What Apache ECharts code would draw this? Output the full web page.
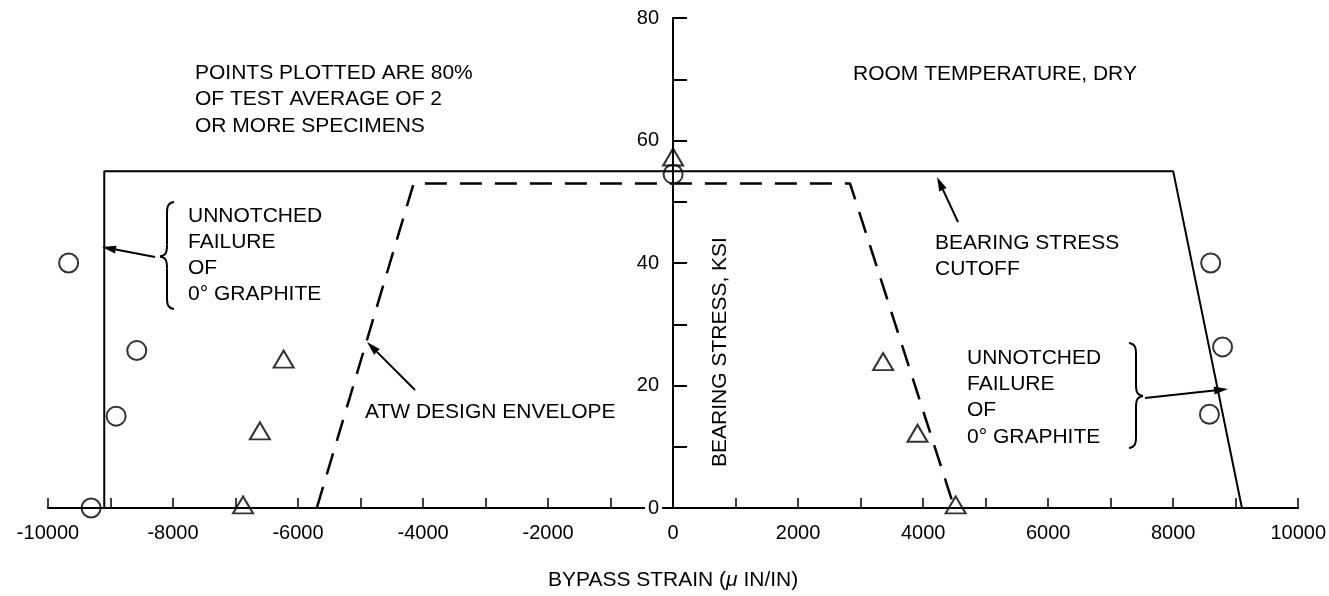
<!DOCTYPE html>
<html><head><meta charset="utf-8">
<script src="https://cdn.jsdelivr.net/npm/echarts@6/dist/echarts.min.js"></script>
<style>html,body{margin:0;padding:0;background:#fff}#c{width:1329px;height:596px}</style>
</head><body><div id="c"></div>
<script>
// ---- data ----
const xLabelValues = [-10000, -8000, -6000, -4000, -2000, 0, 2000, 4000, 6000, 8000, 10000];
const yLabelValues = [0, 20, 40, 60, 80];
// bearing stress cutoff (solid)
const cutoffX = [-9100, -9100, 8000, 9100];
const cutoffY = [0, 55, 55, 0];
// ATW design envelope (dashed)
const envelopeX = [-5700, -4150, 2830, 4500];
const envelopeY = [0, 53, 53, 0];
// circles
const circleX = [-9670, -8580, -8910, -9310, 0, 8600, 8790, 8580];
const circleY = [40, 25.7, 15, 0, 54.5, 40, 26.3, 15.3];
// triangles
const triangleX = [-6230, -6610, -6880, 0, 3360, 3910, 4520];
const triangleY = [24.3, 12.6, 0.5, 57.3, 23.9, 12.2, 0.5];

const FONT = '"Liberation Sans", Arial, Helvetica, sans-serif';
const FS = 20;   // tick labels
const FA = 21;   // annotations / axis names
function pairs(xs, ys) { return xs.map((x, i) => [x, ys[i]]); }

const chart = echarts.init(document.getElementById('c'), null, { renderer: 'canvas' });

const STROKE = { stroke: '#000', lineWidth: 2, fill: null };
function arrow(x1, y1, x2, y2) {
  const L = 14, W = 4;
  const dx = x2 - x1, dy = y2 - y1, len = Math.hypot(dx, dy);
  const ux = dx / len, uy = dy / len;
  const bx = x2 - ux * L, by = y2 - uy * L;
  return [
    { type: 'line', shape: { x1: x1, y1: y1, x2: bx, y2: by }, style: { stroke: '#000', lineWidth: 2 } },
    { type: 'polygon', shape: { points: [[x2, y2], [bx - uy * W, by + ux * W], [bx + uy * W, by - ux * W]] }, style: { fill: '#000' } }
  ];
}
// curly brace: xe = end x, xm = spine x, xt = tip x
function brace(xe, xm, xt, yTop, yTip, yBot) {
  const s = Math.sign(xt - xm);
  const r = 12;
  const bz = (x1, y1, cx1, cy1, cx2, cy2, x2, y2) => ({ type: 'bezierCurve',
    shape: { x1: x1, y1: y1, cpx1: cx1, cpy1: cy1, cpx2: cx2, cpy2: cy2, x2: x2, y2: y2 }, style: STROKE });
  const ln = (x1, y1, x2, y2) => ({ type: 'line', shape: { x1: x1, y1: y1, x2: x2, y2: y2 }, style: STROKE });
  return [
    bz(xe, yTop, xm, yTop + 1, xm, yTop + 6, xm, yTop + r),
    ln(xm, yTop + r, xm, yTip - r),
    bz(xm, yTip - r, xm, yTip - 4, xm + s * 1, yTip - 1, xt, yTip),
    bz(xt, yTip, xm + s * 1, yTip + 1, xm, yTip + 4, xm, yTip + r),
    ln(xm, yTip + r, xm, yBot - r),
    bz(xm, yBot - r, xm, yBot - 6, xm, yBot - 1, xe, yBot)
  ];
}
function textBlock(lines, x, yFirstCenter, lh) {
  return { type: 'text', x: x, y: yFirstCenter - lh / 2,
    style: { text: lines.join('\n'), font: FA + 'px ' + FONT, fill: '#000', lineHeight: lh, align: 'left', verticalAlign: 'top' } };
}

const option = {
  animation: false,
  backgroundColor: '#fff',
  textStyle: { fontFamily: FONT },
  grid: { left: 48, right: 28, top: 18, bottom: 83 },
  xAxis: {
    type: 'value', min: -10000, max: 10000, interval: 1000,
    axisLine: { onZero: true, lineStyle: { color: '#000', width: 2 } },
    axisTick: { inside: true, length: 10, lineStyle: { color: '#000', width: 1.5 } },
    axisLabel: { formatter: v => xLabelValues.includes(v) ? String(v) : '', color: '#000', fontSize: FS, fontFamily: FONT, margin: 15, showMinLabel: true, showMaxLabel: true },
    splitLine: { show: false },
    name: '{n|BYPASS STRAIN (}{i|μ}{n| IN/IN)}', nameLocation: 'middle', nameGap: 62,
    nameTextStyle: { rich: { n: { fontSize: FA, color: '#000', fontFamily: FONT }, i: { fontSize: FA, color: '#000', fontFamily: FONT, fontStyle: 'italic' } } }
  },
  yAxis: {
    type: 'value', min: 0, max: 80, interval: 10,
    axisLine: { onZero: true, lineStyle: { color: '#000', width: 2 } },
    axisTick: { inside: true, length: 14, lineStyle: { color: '#000', width: 2 } },
    axisLabel: { show: false },
    splitLine: { show: false }
  },
  series: [
    { type: 'line', data: pairs(cutoffX, cutoffY), symbol: 'none', lineStyle: { color: '#000', width: 2 }, silent: true, z: 3 },
    { type: 'line', data: pairs(envelopeX, envelopeY), symbol: 'none', lineStyle: { color: '#000', width: 2.5, type: [22, 13] }, silent: true, z: 3 },
    { type: 'scatter', data: pairs(circleX, circleY), symbol: 'circle', symbolSize: 19, clip: false,
      itemStyle: { color: 'rgba(0,0,0,0)', borderColor: '#000', borderWidth: 2 }, silent: true, z: 4 },
    { type: 'scatter', data: pairs(triangleX, triangleY), symbol: 'triangle', symbolSize: [20, 17], clip: false,
      itemStyle: { color: 'rgba(0,0,0,0)', borderColor: '#000', borderWidth: 2 }, silent: true, z: 4 }
  ]
};
chart.setOption(option);

// y-axis tick labels placed beside the axis line (which sits at x = 0)
const yLabelGraphics = yLabelValues.map(v => {
  const p = chart.convertToPixel({ xAxisIndex: 0, yAxisIndex: 0 }, [0, v]);
  return { type: 'text', x: p[0] - 11, y: p[1], z: 10,
    style: { text: String(v), font: FS + 'px ' + FONT, fill: '#000', align: 'right', verticalAlign: 'middle',
      backgroundColor: '#fff', padding: [0, 3, 0, 3] } };
});
const yZero = chart.convertToPixel({ xAxisIndex: 0, yAxisIndex: 0 }, [0, 0]);

const graphics = [].concat(
  yLabelGraphics,
  [textBlock(['POINTS PLOTTED ARE 80%', 'OF TEST AVERAGE OF 2', 'OR MORE SPECIMENS'], 195, 73, 26.5)],
  [textBlock(['ROOM TEMPERATURE, DRY'], 853, 74, 26)],
  [textBlock(['UNNOTCHED', 'FAILURE', 'OF', '0° GRAPHITE'], 188, 216.5, 26)],
  [textBlock(['ATW DESIGN ENVELOPE'], 365, 412, 26)],
  [textBlock(['BEARING STRESS', 'CUTOFF'], 935, 243, 26)],
  [textBlock(['UNNOTCHED', 'FAILURE', 'OF', '0° GRAPHITE'], 967, 358, 26.3)],
  [{ type: 'text', x: yZero[0] + 47, y: 352, rotation: Math.PI / 2,
     style: { text: 'BEARING STRESS, KSI', font: FA + 'px ' + FONT, fill: '#000', align: 'center', verticalAlign: 'middle' } }],
  brace(174, 167, 160, 202, 256.5, 309),
  brace(1129, 1136, 1143, 343, 396, 448),
  arrow(155, 257, 102, 247),
  arrow(415, 390, 367, 342),
  arrow(958, 222, 937, 177),
  arrow(1145, 398, 1228, 389)
);
chart.setOption({ graphic: graphics });
</script>
</body></html>
